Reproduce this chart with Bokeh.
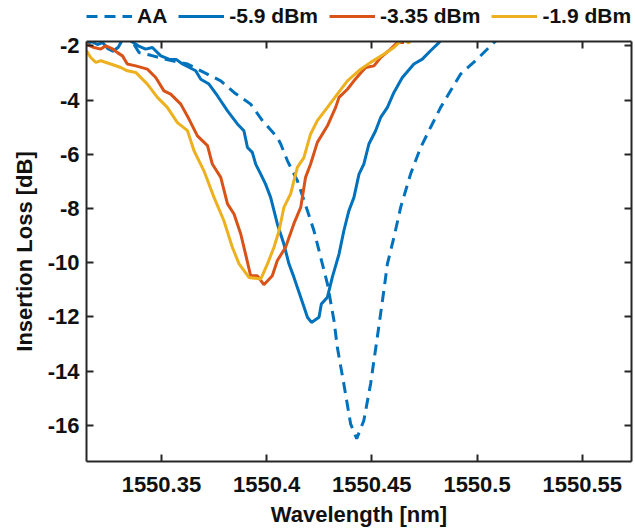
from bokeh.plotting import figure
from bokeh.layouts import column
from bokeh.models import Legend, LegendItem, LinearAxis, FixedTicker, Range1d
from bokeh.embed import file_html
from bokeh.resources import INLINE

# ---- data ----
aa_x = [1550.3300, 1550.3362, 1550.3394, 1550.3450, 1550.3520, 1550.3624, 1550.3702, 1550.3782,
        1550.3845, 1550.3924, 1550.3980, 1550.4051, 1550.4067, 1550.4099, 1550.4146, 1550.4194,
        1550.4225, 1550.4257, 1550.4289, 1550.4320, 1550.4336, 1550.4367, 1550.4399, 1550.4428,
        1550.4462, 1550.4494, 1550.4526, 1550.4557, 1550.4574, 1550.4605, 1550.4637, 1550.4684,
        1550.4732, 1550.4779, 1550.4827, 1550.4874, 1550.4922, 1550.5001, 1550.5080, 1550.5120]
aa_y = [-1.60, -1.85, -2.25, -2.35, -2.50, -2.67, -2.98, -3.29,
        -3.72, -4.15, -4.76, -5.38, -5.62, -6.24, -6.97, -8.08,
        -8.82, -9.80, -10.78, -12.13, -13.12, -14.47, -15.94, -16.49,
        -15.82, -14.47, -12.75, -11.03, -10.04, -9.06, -7.96, -6.73,
        -5.75, -5.01, -4.27, -3.66, -3.04, -2.49, -1.88, -1.60]

p59_x = [1550.3144, 1550.3170, 1550.3196, 1550.3220, 1550.3245, 1550.3270, 1550.3295, 1550.3320,
         1550.3354, 1550.3390, 1550.3425, 1550.3457, 1550.3497, 1550.3536, 1550.3570, 1550.3600,
         1550.3663, 1550.3687, 1550.3726, 1550.3766, 1550.3814, 1550.3861, 1550.3892, 1550.3909,
         1550.3932, 1550.3948, 1550.3972, 1550.3995, 1550.4019, 1550.4035, 1550.4051, 1550.4082,
         1550.4106, 1550.4130, 1550.4162, 1550.4194, 1550.4213, 1550.4249, 1550.4260, 1550.4289,
         1550.4312, 1550.4344, 1550.4367, 1550.4391, 1550.4415, 1550.4439, 1550.4462, 1550.4486,
         1550.4518, 1550.4542, 1550.4574, 1550.4605, 1550.4645, 1550.4700, 1550.4740, 1550.4779,
         1550.4819, 1550.4850]
p59_y = [-1.92, -1.85, -1.95, -1.88, -2.10, -2.20, -2.05, -1.70,
         -1.82, -2.00, -2.12, -2.06, -2.37, -2.49, -2.50, -2.67,
         -2.92, -3.23, -3.41, -3.84, -4.40, -4.88, -5.13, -5.75,
         -5.93, -6.36, -6.73, -7.10, -7.59, -8.08, -8.57, -9.31,
         -10.04, -10.54, -11.27, -12.01, -12.20, -12.01, -11.52, -11.27,
         -10.54, -9.68, -8.82, -8.08, -7.59, -6.73, -6.36, -5.62,
         -5.13, -4.64, -4.27, -3.72, -3.17, -2.67, -2.49, -2.18,
         -1.88, -1.60]

p335_x = [1550.3144, 1550.3175, 1550.3212, 1550.3236, 1550.3265, 1550.3291, 1550.3315, 1550.3338,
          1550.3378, 1550.3433, 1550.3473, 1550.3512, 1550.3544, 1550.3592, 1550.3631, 1550.3671,
          1550.3719, 1550.3742, 1550.3782, 1550.3814, 1550.3845, 1550.3877, 1550.3900, 1550.3924,
          1550.3956, 1550.3987, 1550.4027, 1550.4051, 1550.4090, 1550.4130, 1550.4162, 1550.4185,
          1550.4209, 1550.4241, 1550.4289, 1550.4328, 1550.4344, 1550.4384, 1550.4415, 1550.4447,
          1550.4471, 1550.4510, 1550.4542, 1550.4589, 1550.4621, 1550.4653]
p335_y = [-1.94, -2.05, -2.12, -2.00, -2.10, -2.25, -2.37, -2.67,
          -2.74, -2.86, -3.17, -3.66, -3.78, -4.15, -4.70, -5.32,
          -5.68, -6.36, -6.85, -7.83, -8.20, -8.94, -9.68, -10.48,
          -10.48, -10.81, -10.48, -9.92, -9.43, -8.55, -7.96, -6.85,
          -6.36, -5.56, -4.95, -4.27, -3.90, -3.60, -3.29, -3.00,
          -2.80, -2.74, -2.43, -2.12, -1.88, -1.88]

p19_x = [1550.3144, 1550.3164, 1550.3188, 1550.3212, 1550.3259, 1550.3307, 1550.3338, 1550.3378,
         1550.3433, 1550.3481, 1550.3528, 1550.3576, 1550.3624, 1550.3655, 1550.3702, 1550.3750,
         1550.3797, 1550.3837, 1550.3869, 1550.3916, 1550.3972, 1550.4004, 1550.4035, 1550.4059,
         1550.4082, 1550.4114, 1550.4146, 1550.4177, 1550.4209, 1550.4241, 1550.4289, 1550.4336,
         1550.4384, 1550.4447, 1550.4494, 1550.4557, 1550.4605, 1550.4629, 1550.4650, 1550.4675,
         1550.4690]
p19_y = [-2.18, -2.43, -2.61, -2.55, -2.67, -2.80, -2.92, -2.98,
         -3.41, -3.90, -4.27, -4.83, -5.13, -5.87, -6.61, -7.59,
         -8.45, -9.43, -10.04, -10.54, -10.60, -10.04, -9.43, -8.82,
         -7.96, -7.46, -6.48, -6.12, -5.25, -4.76, -4.27, -3.78,
         -3.29, -2.86, -2.61, -2.31, -2.06, -1.88, -1.75, -1.90,
         -1.75]

series_labels = ["AA", "-5.9 dBm", "-3.35 dBm", "-1.9 dBm"]
x_ticks = [1550.35, 1550.4, 1550.45, 1550.5, 1550.55]
x_tick_labels = ["1550.35", "1550.4", "1550.45", "1550.5", "1550.55"]
y_ticks = [-16, -14, -12, -10, -8, -6, -4, -2]
y_tick_labels = ["-16", "-14", "-12", "-10", "-8", "-6", "-4", "-2"]

BLUE = "#0072BD"
ORANGE = "#D95319"
YELLOW = "#EDB120"
AX = "#262626"
TXT = "#111111"
FONT = "Liberation Sans"
FS = "22px"

colors = [BLUE, BLUE, ORANGE, YELLOW]
dashes = ["11 7", "solid", "solid", "solid"]
xs = [aa_x, p59_x, p335_x, p19_x]
ys = [aa_y, p59_y, p335_y, p19_y]

x_rng = Range1d(1550.3144, 1550.5734)

# ---------------- main axes ----------------
p = figure(width=635, height=502, output_backend="svg", toolbar_location=None,
           x_range=x_rng, y_range=Range1d(-17.33, -1.84),
           min_border_left=86, min_border_right=4, min_border_top=11, min_border_bottom=71,
           x_axis_location=None, y_axis_location=None)
p.grid.visible = False
p.outline_line_color = None
p.background_fill_color = "white"
p.border_fill_color = "white"


def style_main(ax):
    ax.axis_line_color = AX
    ax.axis_line_width = 2
    ax.major_tick_line_color = AX
    ax.major_tick_line_width = 2
    ax.major_tick_in = 7
    ax.major_tick_out = 0
    ax.minor_tick_line_color = None
    ax.major_label_text_font = FONT
    ax.major_label_text_font_style = "bold"
    ax.major_label_text_font_size = FS
    ax.major_label_text_color = TXT
    ax.axis_label_text_font = FONT
    ax.axis_label_text_font_style = "bold"
    ax.axis_label_text_font_size = FS
    ax.axis_label_text_color = TXT


def mirror_axis(ticks):
    # box side: inward ticks, labels not drawn
    ax = LinearAxis(ticker=FixedTicker(ticks=ticks))
    ax.axis_line_color = AX
    ax.axis_line_width = 2
    ax.major_tick_line_color = AX
    ax.major_tick_line_width = 2
    ax.major_tick_in = 7
    ax.major_tick_out = 0
    ax.minor_tick_line_color = None
    ax.major_label_text_font_size = "1px"
    ax.major_label_text_color = None
    ax.major_label_standoff = 0
    return ax


xb = LinearAxis(ticker=FixedTicker(ticks=x_ticks),
                major_label_overrides=dict(zip(x_ticks, x_tick_labels)),
                axis_label="Wavelength [nm]")
style_main(xb)
xb.major_label_standoff = 15
xb.axis_label_standoff = 7
p.add_layout(xb, "below")

yl = LinearAxis(ticker=FixedTicker(ticks=y_ticks),
                major_label_overrides=dict(zip(y_ticks, y_tick_labels)),
                axis_label="Insertion Loss [dB]")
style_main(yl)
yl.major_label_standoff = 7
yl.axis_label_standoff = 8
p.add_layout(yl, "left")

p.add_layout(mirror_axis(x_ticks), "above")
p.add_layout(mirror_axis(y_ticks), "right")

for x, y, c, d in zip(xs, ys, colors, dashes):
    p.line(x, y, line_color=c, line_width=3, line_dash=d)

# ---------------- legend strip above the axes ----------------
# same series drawn with a y-range where they fall out of view: only the legend shows
pl = figure(width=635, height=30, output_backend="svg", toolbar_location=None,
            min_border=0, x_axis_location=None, y_axis_location=None,
            x_range=x_rng, y_range=Range1d(0, 1))
pl.grid.visible = False
pl.outline_line_color = None
pl.background_fill_color = "white"
pl.border_fill_color = "white"

leg_renderers = [pl.line(x, y, line_color=c, line_width=3, line_dash=d)
                 for x, y, c, d in zip(xs, ys, colors, dashes)]
items = [LegendItem(label=lab, renderers=[r]) for lab, r in zip(series_labels, leg_renderers)]
legend = Legend(items=items, orientation="horizontal", location=(0, 2),
                padding=0, margin=0, spacing=11, glyph_width=46, glyph_height=20,
                label_standoff=5, label_height=20,
                border_line_color=None, background_fill_alpha=0,
                label_text_font=FONT, label_text_font_style="bold",
                label_text_font_size="21px", label_text_color=TXT)
pl.add_layout(legend, "center")

layout = column(pl, p, spacing=0)
open("out.html", "w").write(file_html(layout, INLINE))
